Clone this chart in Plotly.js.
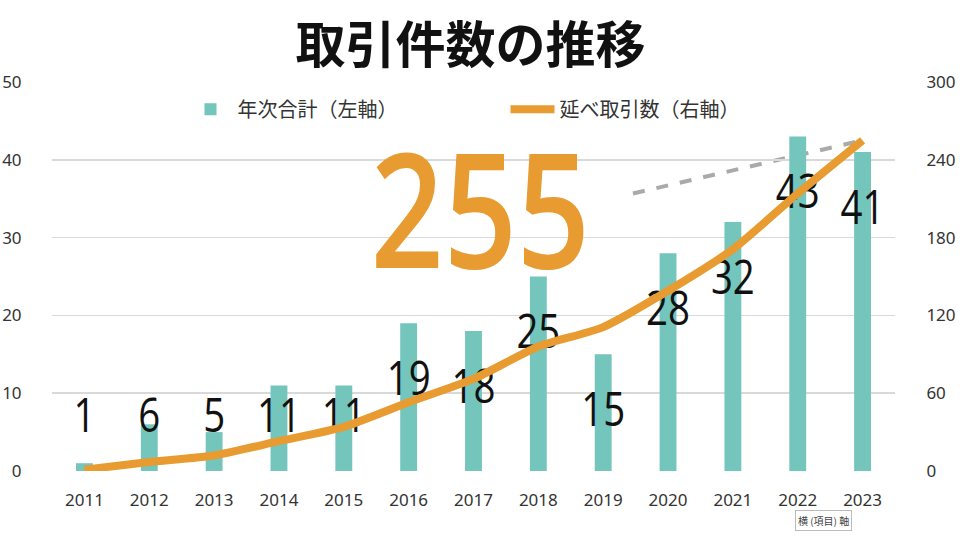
<!DOCTYPE html>
<html><head><meta charset="utf-8">
<script src="https://cdn.plot.ly/plotly-3.0.1.min.js"></script>
<style>html,body{margin:0;padding:0;background:#fff}#c{width:960px;height:539px}</style>
</head><body><div id="c"></div>
<script>
const years = ['2011','2012','2013','2014','2015','2016','2017','2018','2019','2020','2021','2022','2023'];
const annual = [1, 6, 5, 11, 11, 19, 18, 25, 15, 28, 32, 43, 41];
const cumulative = [1, 7, 12, 23, 34, 53, 71, 96, 111, 139, 171, 214, 255];
const leftTicks = [0, 10, 20, 30, 40, 50];
const rightTicks = [0, 60, 120, 180, 240, 300];
const seriesNames = ['年次合計（左軸）', '延べ取引数（右軸）'];
const titleText = '取引件数の推移';
const totalText = '255';
const axisHint = '横 (項目) 軸';

const teal = '#74C5BB', orange = '#E89B30';
const labelY = annual.map(v => Math.max(v - 7.7, 6.6));
const numFont = '"Noto Sans", sans-serif';
const lightFont = '"Open Sans", "Noto Sans", sans-serif';

const traces = [
  {type:'bar', x: years, y: annual, name: seriesNames[0], marker:{color: teal}, width: 0.26, yaxis:'y'},
  {type:'scatter', mode:'lines', x: years, y: cumulative, name: seriesNames[1], yaxis:'y2',
   line:{color: orange, width: 8, shape:'spline', smoothing: 0.6}},
  {type:'scatter', mode:'text', x: years, y: labelY, text: annual.map(String), yaxis:'y',
   textfont:{family: lightFont, size: 48, color:'#111', weight: 400}, showlegend:false, hoverinfo:'skip'}
];

const layout = {
  width: 960, height: 539,
  margin: {l: 52, r: 65, t: 82, b: 68},
  paper_bgcolor:'#fff', plot_bgcolor:'#fff',
  font: {family:'"Noto Sans CJK JP", "Noto Sans", sans-serif', color:'#333'},
  title: {text: '<b>' + titleText + '</b>', x: 0.49, xanchor:'center', y: 0.915, yanchor:'middle',
          font:{size: 50, color:'#111', family:'"Noto Sans CJK JP", sans-serif'}},
  showlegend: true,
  legend: {orientation:'h', x: 0.156, xanchor:'left', y: 0.93, yanchor:'middle', itemwidth: 44,
           entrywidth: 263, font:{size: 20, color:'#333'}, bgcolor:'rgba(0,0,0,0)'},
  xaxis: {type:'category', range:[-0.5, 12.5], showgrid:false, zeroline:false, showline:false,
          ticks:'outside', ticklen: 14, tickcolor:'rgba(0,0,0,0)',
          tickfont:{size: 17, color:'#333', family: numFont}},
  yaxis: {range:[0, 50], tickvals: leftTicks, showgrid:true, gridcolor:'#d9d9d9', gridwidth: 1.5,
          zeroline:false, showline:false, ticks:'outside', ticklen: 26, tickcolor:'rgba(0,0,0,0)',
          tickfont:{size: 17, color:'#333', family: numFont}},
  yaxis2: {range:[0, 300], tickvals: rightTicks, overlaying:'y', side:'right', showgrid:false,
          zeroline:false, showline:false, ticks:'outside', ticklen: 27, tickcolor:'rgba(0,0,0,0)',
          tickfont:{size: 17, color:'#333', family: numFont}},
  shapes: [
    {type:'line', xref:'x', yref:'y2', x0: 8.46, y0: 214, x1: 12, y1: cumulative[12],
     line:{color:'#aaaaaa', width: 4, dash:'dash'}, layer:'below'}
  ],
  annotations: [
    {text: totalText, xref:'paper', yref:'paper', x: 0.508, y: 0.68, xanchor:'center', yanchor:'middle',
     showarrow:false, font:{family: lightFont, size: 160, color: orange, weight: 600}},
    {text: axisHint, xref:'paper', yref:'paper', x: 0.915, y: -0.127, xanchor:'center', yanchor:'middle',
     showarrow:false, font:{size: 10, color:'#444'}, bgcolor:'#fff', bordercolor:'#bbb', borderwidth: 1, borderpad: 2}
  ]
};

function squeeze(el, s) {
  const b = el.getBBox();
  const cx = b.x + b.width / 2;
  const prev = el.getAttribute('transform') || '';
  el.setAttribute('transform', prev + ' translate(' + cx + ',0) scale(' + s + ',1) translate(' + (-cx) + ',0)');
}

Plotly.newPlot('c', traces, layout, {displayModeBar:false, staticPlot:true}).then(() => {
  document.querySelectorAll('#c .textpoint text').forEach(t => squeeze(t, 0.8));
  document.querySelectorAll('#c .annotation-text').forEach(t => {
    if (t.textContent === totalText) squeeze(t, 0.8);
  });
});
</script></body></html>
